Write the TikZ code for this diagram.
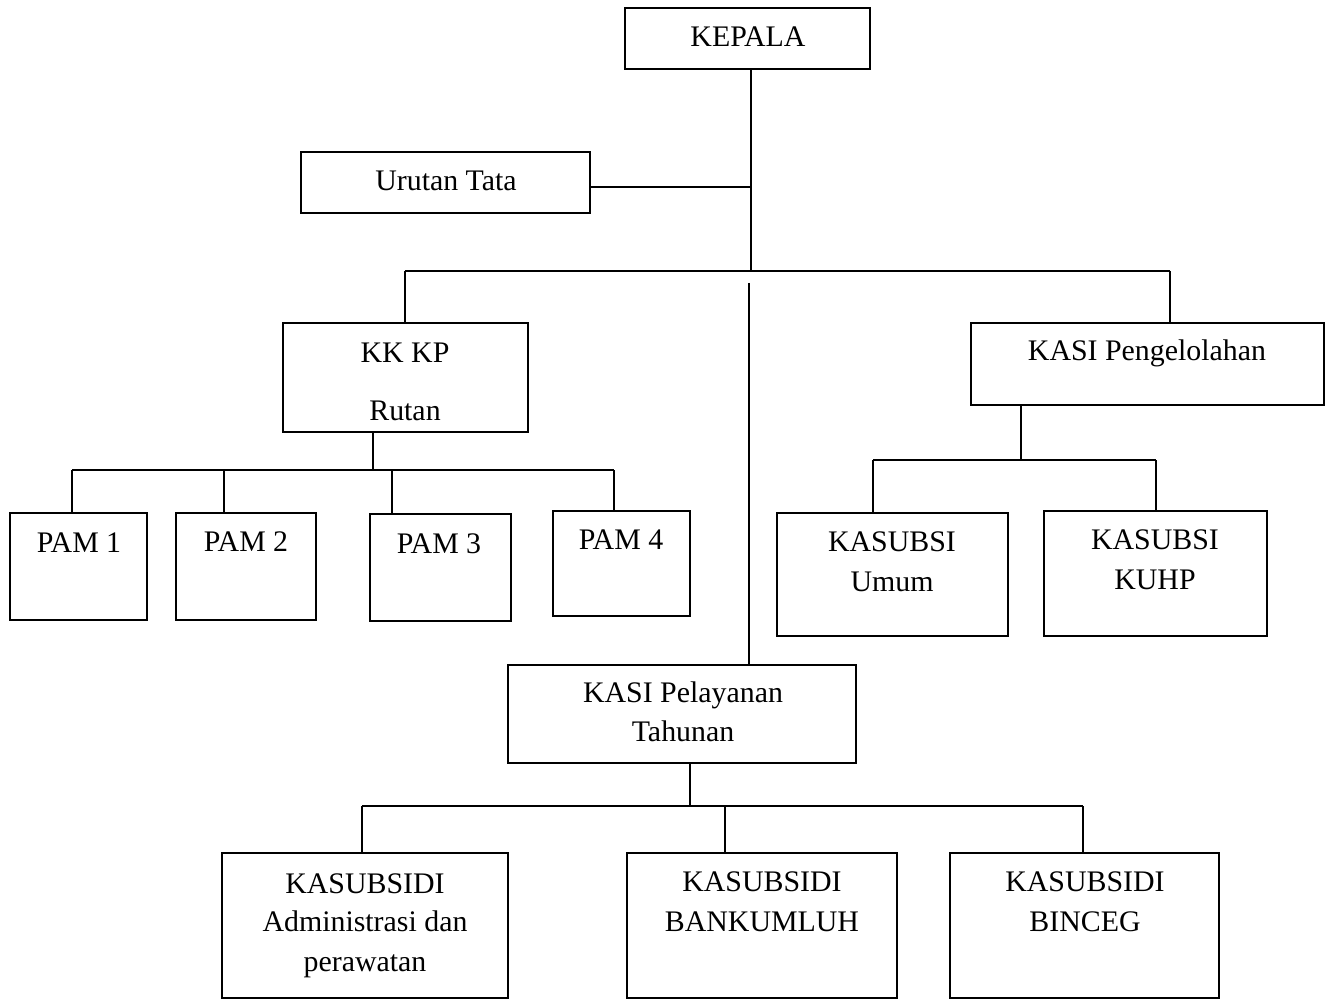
\documentclass[tikz,border=0pt]{standalone}
\usepackage{fontspec}
\setmainfont{Liberation Serif}
\usetikzlibrary{fit}

\tikzset{
  kotak/.style={draw, line width=1.1pt, inner sep=0pt, rectangle},
  teks/.style={anchor=base, font=\fontsize{17}{20}\selectfont, inner sep=0pt},
  garis/.style={line width=1pt}
}

\begin{document}
\begin{tikzpicture}[x=0.02cm, y=-0.02cm]
% bagan organisasi rutan
\useasboundingbox (0,0) rectangle (1329,1000);

% kotak jabatan
\node[kotak, fit={(625,8) (870,69)}] (kepala) {};
\node[teks] (kepalat) at (748,47) {KEPALA};

\node[kotak, fit={(301,152) (590,213)}] (urutan) {};
\node[teks] (urutant) at (446,191) {Urutan Tata};

\node[kotak, fit={(283,323) (528,432)}] (kkkp) {};
\node[teks] (kkkpa) at (405,362) {KK KP};
\node[teks] (kkkpb) at (405,420) {Rutan};

\node[kotak, fit={(971,323) (1324,405)}] (kasipg) {};
\node[teks] (kasipgt) at (1147,360) {KASI Pengelolahan};

\node[kotak, fit={(10,513) (147,620)}] (pam1) {};
\node[teks] (pam1t) at (79,552) {PAM 1};
\node[kotak, fit={(176,513) (316,620)}] (pam2) {};
\node[teks] (pam2t) at (246,551) {PAM 2};
\node[kotak, fit={(370,514) (511,621)}] (pam3) {};
\node[teks] (pam3t) at (439,553) {PAM 3};
\node[kotak, fit={(553,511) (690,616)}] (pam4) {};
\node[teks] (pam4t) at (621,549) {PAM 4};

\node[kotak, fit={(777,513) (1008,636)}] (umum) {};
\node[teks] (umuma) at (892,551) {KASUBSI};
\node[teks] (umumb) at (892,591) {Umum};
\node[kotak, fit={(1044,511) (1267,636)}] (kuhp) {};
\node[teks] (kuhpa) at (1155,549) {KASUBSI};
\node[teks] (kuhpb) at (1155,589) {KUHP};

\node[kotak, fit={(508,665) (856,763)}] (kasipl) {};
\node[teks] (kasipla) at (683,702) {KASI Pelayanan};
\node[teks] (kasiplb) at (683,741) {Tahunan};

\node[kotak, fit={(222,853) (508,998)}] (adm) {};
\node[teks] (adma) at (365,893) {KASUBSIDI};
\node[teks] (admb) at (365,931) {Administrasi dan};
\node[teks] (admc) at (365,971) {perawatan};
\node[kotak, fit={(627,853) (897,998)}] (bank) {};
\node[teks] (banka) at (762,891) {KASUBSIDI};
\node[teks] (bankb) at (762,931) {BANKUMLUH};
\node[kotak, fit={(950,853) (1219,998)}] (binceg) {};
\node[teks] (bincega) at (1085,891) {KASUBSIDI};
\node[teks] (bincegb) at (1085,931) {BINCEG};

% titik bantu garis
\coordinate (pusat) at (751,271);
\coordinate (cabang) at (751,187);
\coordinate (busL) at (405,271);
\coordinate (busR) at (1170,271);
\coordinate (tengah) at (749,283);
\coordinate (rutanbus) at (373,470);
\coordinate (pamL) at (72,470);
\coordinate (pamR) at (614,470);
\coordinate (pgbus) at (1021,460);
\coordinate (pgL) at (873,460);
\coordinate (pgR) at (1156,460);
\coordinate (plbus) at (690,806);
\coordinate (plL) at (362,806);
\coordinate (plR) at (1083,806);

% garis penghubung
\draw[garis] (kepala.south -| pusat) -- (pusat);
\draw[garis] (urutan.east |- cabang) -- (cabang);
\draw[garis] (busL) -- (busR);
\draw[garis] (busL) -- (kkkp.north -| busL);
\draw[garis] (busR) -- (kasipg.north -| busR);
\draw[garis] (tengah) -- (kasipl.north -| tengah);

\draw[garis] (kkkp.south -| rutanbus) -- (rutanbus);
\draw[garis] (pamL) -- (pamR);
\draw[garis] (pamL) -- (pam1.north -| pamL);
\draw[garis] (pam2.north -| 224,0) -- (224,470);
\draw[garis] (pam3.north -| 392,0) -- (392,470);
\draw[garis] (pamR) -- (pam4.north -| pamR);

\draw[garis] (kasipg.south -| pgbus) -- (pgbus);
\draw[garis] (pgL) -- (pgR);
\draw[garis] (pgL) -- (umum.north -| pgL);
\draw[garis] (pgR) -- (kuhp.north -| pgR);

\draw[garis] (kasipl.south -| plbus) -- (plbus);
\draw[garis] (plL) -- (plR);
\draw[garis] (plL) -- (adm.north -| plL);
\draw[garis] (bank.north -| 725,0) -- (725,806);
\draw[garis] (plR) -- (binceg.north -| plR);

\end{tikzpicture}
\end{document}
